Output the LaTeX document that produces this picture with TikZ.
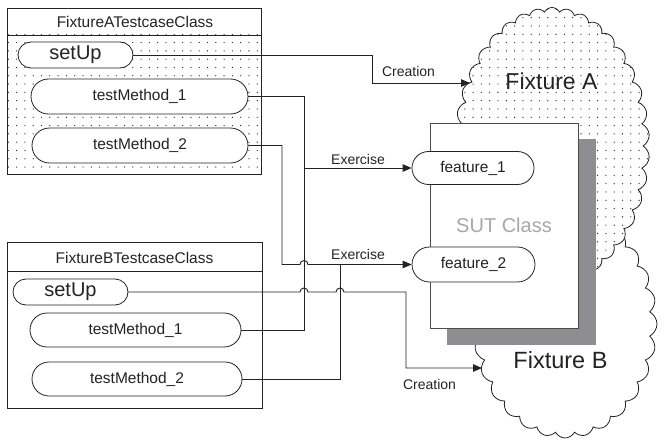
\documentclass[tikz,border=0pt]{standalone}
\usepackage{fontspec}
\setmainfont{Liberation Sans}
\usetikzlibrary{shapes.misc,shapes.symbols,arrows.meta,patterns}
\pgfdeclarepatternformonly{bigdots}{\pgfqpoint{-1pt}{-1pt}}{\pgfqpoint{1pt}{1pt}}{\pgfqpoint{8.3pt}{8.3pt}}{\pgfpathcircle{\pgfqpoint{0pt}{0pt}}{0.65pt}\pgfusepath{fill}}
\definecolor{shadowgray}{RGB}{142,142,146}
\definecolor{sutgray}{RGB}{168,168,170}
\definecolor{ink}{RGB}{35,35,35}
\begin{document}
\begin{tikzpicture}[x=1pt,y=-1pt,
  pill/.style={rounded rectangle, draw=ink, line width=0.8pt, fill=white, inner sep=0pt, text=ink},
  mfont/.style={font=\fontsize{15.5}{18}\selectfont},
  sfont/.style={font=\fontsize{20}{22}\selectfont},
  classbox/.style={draw=ink, line width=0.9pt, inner sep=0pt, anchor=north west},
  conn/.style={line width=0.95pt, ink},
  arr/.style={conn, -{Triangle[length=9pt,width=7.5pt]}},
  lbl/.style={font=\fontsize{14}{16}\selectfont, text=ink, inner sep=0pt},
  cloudstyle/.style={cloud, cloud ignores aspect, draw=ink, line width=0.8pt, inner sep=0pt},
  dots/.style={pattern=bigdots, pattern color=ink}]
\useasboundingbox (0,0) rectangle (667,441);

% ---------- clouds ----------
\node[cloudstyle, cloud puffs=28, cloud puff arc=125, fill=white,
      minimum width=184pt, minimum height=228pt] (cloudB) at (565,324) {};
\node[cloudstyle, cloud puffs=38, cloud puff arc=125, preaction={fill=white}, dots,
      minimum width=195pt, minimum height=277pt] (cloudA) at (552,146) {};
\node[font=\fontsize{23}{26}\selectfont, text=ink, inner sep=0pt] (lblFA) at (551.5,81.5) {Fixture A};
\node[font=\fontsize{23.5}{26}\selectfont, text=ink, inner sep=0pt] (lblFB) at (560.5,360) {Fixture B};

% ---------- SUT ----------
\node[fill=shadowgray, inner sep=0pt, anchor=north west, minimum width=149pt, minimum height=206pt] (shadow) at (447,139) {};
\node[draw=black!70, fill=white, line width=0.8pt, inner sep=0pt, anchor=north west,
      minimum width=148pt, minimum height=205pt] (sut) at (430,123) {};
\node[sfont, text=sutgray, inner sep=0pt] (sutlbl) at (504,225) {SUT Class};
\node[pill, mfont, minimum width=122pt, minimum height=33pt] (feat1) at (473,168) {feature\_1};
\node[pill, mfont, minimum width=123pt, minimum height=35pt] (feat2) at (473.5,264.5) {feature\_2};

% ---------- Fixture A testcase class ----------
\node[classbox, minimum width=254pt, minimum height=166pt] (boxA) at (7,8) {};
\fill[dots] ([yshift=-27pt]boxA.north west) rectangle (boxA.south east);
\draw[draw=ink, line width=0.9pt] (boxA.north west) rectangle (boxA.south east);
\draw[draw=ink, line width=0.9pt] ([yshift=-27pt]boxA.north west) -- ([yshift=-27pt]boxA.north east);
\node[mfont, text=ink, inner sep=0pt] (titleA) at (135,21.5) {FixtureATestcaseClass};
\node[pill, sfont, minimum width=115pt, minimum height=26pt] (suA) at (75.5,55) {setUp};
\node[pill, mfont, minimum width=217pt, minimum height=35pt] (tmA1) at (139.5,96.5) {testMethod\_1};
\node[pill, mfont, minimum width=216pt, minimum height=35pt] (tmA2) at (140,145.5) {testMethod\_2};

% ---------- Fixture B testcase class ----------
\node[classbox, minimum width=255pt, minimum height=166pt] (boxB) at (7,242) {};
\draw[draw=ink, line width=0.9pt] ([yshift=-29pt]boxB.north west) -- ([yshift=-29pt]boxB.north east);
\node[mfont, text=ink, inner sep=0pt] (titleB) at (134.5,257.5) {FixtureBTestcaseClass};
\node[pill, sfont, minimum width=115pt, minimum height=26pt] (suB) at (70.5,292) {setUp};
\node[pill, mfont, minimum width=211pt, minimum height=34pt] (tmB1) at (135.5,330) {testMethod\_1};
\node[pill, mfont, minimum width=210pt, minimum height=34pt] (tmB2) at (137,379) {testMethod\_2};

% ---------- helper coordinates ----------
\coordinate (x282) at (282,0);
\coordinate (x300) at (300,0);
\coordinate (x304) at (304,0);
\coordinate (x336) at (336,0);
\coordinate (x340) at (340,0);
\coordinate (x372) at (372,0);
\coordinate (x406) at (406,0);
\coordinate (cA) at (470,83);
\coordinate (cB) at (482,368);

% ---------- connectors ----------
% Fixture A setUp -> Fixture A (creation)
\draw[arr] (suA.east) -| (x372 |- cA) -- (cA);
\node[lbl] (creA) at (408.5,71.5) {Creation};
% testMethod_1 (A and B) -> feature_1
\draw[conn] (tmA1.east) -| (x304 |- tmB1.east) -- (tmB1.east);
\draw[arr] (feat1.west -| x304) -- (feat1.west);
\node[lbl] (exe1) at (358,159.5) {Exercise};
% testMethod_2 (A and B) -> feature_2
\draw[arr] (tmA2.east) -| (feat2.west -| x282) -- (feat2.west -| x300)
   arc (180:360:4) -- (feat2.west);
\draw[conn] (tmB2.east) -| (feat2.west -| x340);
\node[lbl] (exe2) at (358,254.5) {Exercise};
% Fixture B setUp -> Fixture B (creation)
\draw[arr] (suB.east) -- (suB.east -| x300) arc (180:360:4)
   -- (suB.east -| x336) arc (180:360:4) -- (suB.east -| x406) |- (cB);
\node[lbl] (creB) at (429.5,384.5) {Creation};
\end{tikzpicture}
\end{document}
